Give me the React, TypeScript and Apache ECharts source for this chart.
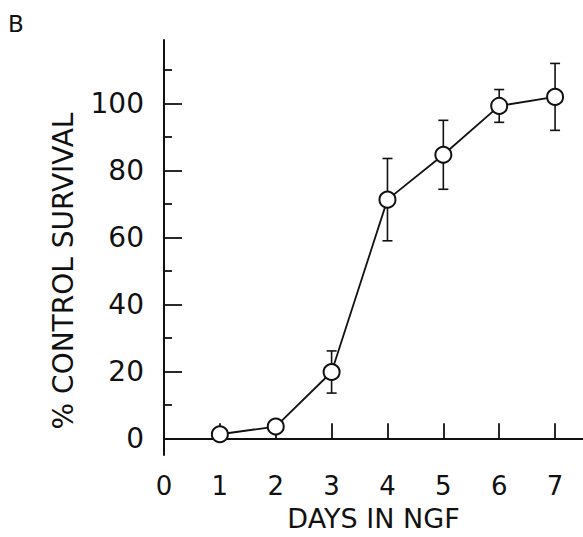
import React, { useEffect, useRef } from "react";
import * as echarts from "echarts";

const days = [1, 2, 3, 4, 5, 6, 7];
const survival = [1.2, 3.5, 19.8, 71.3, 84.7, 99.3, 102.0];
const sem = [0, 0, 6.3, 12.3, 10.3, 4.9, 10.0];
const yMajorTicks = [0, 20, 40, 60, 80, 100];
const yMinorTicks = [10, 30, 50, 70, 90, 110];
const xTicks = [1, 2, 3, 4, 5, 6, 7];
const xLabels = [0, 1, 2, 3, 4, 5, 6, 7];

const FONT = "'DejaVu Sans', 'Liberation Sans', sans-serif";
const INK = "#111";
const W = 583;
const H = 537;

export default function App() {
  const ref = useRef<HTMLDivElement>(null);

  useEffect(() => {
    if (!ref.current) return;
    const chart = echarts.init(ref.current, null, { renderer: "svg", width: W, height: H });
    const points = days.map((d, i) => [d, survival[i]]);
    const errData = days.map((d, i) => [d, survival[i] - sem[i], survival[i] + sem[i]]);

    chart.setOption({
      animation: false,
      backgroundColor: "#fff",
      grid: { left: 164, right: 0, top: 40, bottom: 76, containLabel: false },
      xAxis: {
        type: "value",
        min: 0,
        max: 7.5,
        name: "DAYS IN NGF",
        nameLocation: "middle",
        nameGap: 50,
        nameTextStyle: { fontFamily: FONT, fontSize: 27, color: INK, verticalAlign: "top" },
        axisLine: { show: true, lineStyle: { color: INK, width: 2 } },
        axisTick: { show: true, inside: true, length: 15, customValues: xTicks, lineStyle: { color: INK, width: 1.8 } },
        axisLabel: { customValues: xLabels, fontFamily: FONT, fontSize: 26, color: INK, margin: 18 },
        splitLine: { show: false },
      },
      yAxis: [
        {
          type: "value",
          min: -5,
          max: 119,
          axisLine: { show: true, onZero: false, lineStyle: { color: INK, width: 2 } },
          axisTick: { show: true, inside: true, length: 18, customValues: yMajorTicks, lineStyle: { color: INK, width: 1.8 } },
          axisLabel: { customValues: yMajorTicks, fontFamily: FONT, fontSize: 28, color: INK, margin: 20 },
          splitLine: { show: false },
        },
        {
          type: "value",
          min: -5,
          max: 119,
          position: "left",
          axisLine: { show: false },
          axisTick: { show: true, inside: true, length: 8, customValues: yMinorTicks, lineStyle: { color: INK, width: 1.8 } },
          axisLabel: { show: false },
          splitLine: { show: false },
        },
      ],
      graphic: [
        {
          type: "text",
          x: 8,
          y: 12,
          style: {
            text: "B",
            font: `23px ${FONT}`,
            fill: INK,
            align: "left",
            verticalAlign: "top",
          },
        },
        {
          type: "text",
          x: 63,
          y: 271,
          rotation: Math.PI / 2,
          style: {
            text: "% CONTROL SURVIVAL",
            font: `28px ${FONT}`,
            fill: INK,
            align: "center",
            verticalAlign: "middle",
          },
        },
      ],
      series: [
        {
          type: "custom",
          xAxisIndex: 0,
          yAxisIndex: 0,
          z: 1,
          data: errData,
          renderItem: (params: any, api: any) => {
            const x = api.value(0);
            const lo = api.coord([x, api.value(1)]);
            const hi = api.coord([x, api.value(2)]);
            const cap = 5;
            const style = { stroke: INK, lineWidth: 1.6 };
            return {
              type: "group",
              children: [
                { type: "line", shape: { x1: lo[0], y1: lo[1], x2: hi[0], y2: hi[1] }, style },
                { type: "line", shape: { x1: hi[0] - cap, y1: hi[1], x2: hi[0] + cap, y2: hi[1] }, style },
                { type: "line", shape: { x1: lo[0] - cap, y1: lo[1], x2: lo[0] + cap, y2: lo[1] }, style },
              ],
            };
          },
        },
        {
          type: "line",
          xAxisIndex: 0,
          yAxisIndex: 0,
          z: 3,
          data: points,
          symbol: "circle",
          symbolSize: 16,
          showSymbol: true,
          lineStyle: { color: INK, width: 1.8 },
          itemStyle: { color: "#fff", borderColor: INK, borderWidth: 2 },
        },
      ],
    });

    return () => chart.dispose();
  }, []);

  return (
    <div
      ref={ref}
      style={{ position: "fixed", left: 0, top: 0, width: W, height: H, background: "#fff" }}
    />
  );
}
